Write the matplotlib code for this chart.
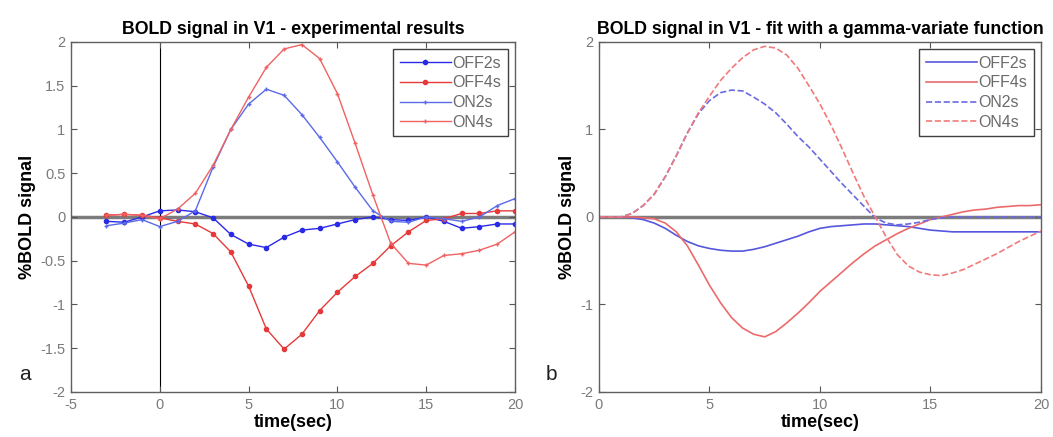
import matplotlib
matplotlib.use('Agg')
import matplotlib.pyplot as plt
import numpy as np

plt.rcParams['font.family'] = ['Liberation Sans', 'DejaVu Sans']
plt.rcParams['axes.unicode_minus'] = False

# experimental results (panel a), one value per second
t_exp = np.arange(-3, 21)
off2s = [-0.05, -0.06, 0.0, 0.07, 0.08, 0.06, -0.01, -0.20, -0.31, -0.35, -0.23, -0.15,
         -0.13, -0.08, -0.03, 0.0, -0.03, -0.04, 0.0, -0.05, -0.13, -0.11, -0.08, -0.08]
off4s = [0.02, 0.03, 0.02, -0.01, -0.05, -0.08, -0.19, -0.40, -0.79, -1.28, -1.51, -1.34,
         -1.07, -0.86, -0.68, -0.53, -0.33, -0.17, -0.04, -0.02, 0.04, 0.04, 0.07, 0.07]
on2s = [-0.10, -0.07, -0.03, -0.11, -0.05, 0.07, 0.57, 1.00, 1.29, 1.46, 1.39, 1.17,
        0.91, 0.63, 0.34, 0.07, -0.05, -0.06, 0.0, -0.02, -0.05, 0.0, 0.13, 0.21]
on4s = [0.02, 0.03, 0.02, -0.02, 0.09, 0.27, 0.59, 1.00, 1.37, 1.71, 1.92, 1.97,
        1.81, 1.41, 0.84, 0.25, -0.30, -0.53, -0.55, -0.44, -0.42, -0.38, -0.31, -0.17]

# gamma-variate fits (panel b), read every half second
t_fit = np.arange(0, 20.5, 0.5)
fit_off2s = [0, 0, 0, -0.01, -0.03, -0.07, -0.13, -0.21, -0.28, -0.33, -0.36, -0.38, -0.39,
             -0.39, -0.37, -0.34, -0.30, -0.26, -0.22, -0.17, -0.13, -0.11, -0.10, -0.09,
             -0.08, -0.08, -0.09, -0.10, -0.11, -0.13, -0.15, -0.16, -0.17, -0.17, -0.17,
             -0.17, -0.17, -0.17, -0.17, -0.17, -0.17]
fit_off4s = [0, 0, 0, 0, -0.01, -0.02, -0.07, -0.17, -0.33, -0.55, -0.78, -0.98, -1.15,
             -1.27, -1.34, -1.37, -1.31, -1.21, -1.10, -0.98, -0.85, -0.74, -0.63, -0.52,
             -0.42, -0.33, -0.26, -0.19, -0.13, -0.08, -0.03, 0.0, 0.03, 0.06, 0.08, 0.09,
             0.11, 0.12, 0.13, 0.13, 0.14]
fit_on2s = [0, 0, 0, 0.04, 0.13, 0.26, 0.46, 0.70, 0.96, 1.18, 1.33, 1.42, 1.45, 1.44,
            1.37, 1.29, 1.19, 1.06, 0.92, 0.80, 0.66, 0.52, 0.38, 0.25, 0.12, -0.01, -0.07,
            -0.09, -0.08, -0.06, -0.03, -0.01, 0, 0, 0, 0, 0, 0, 0, 0, 0]
fit_on4s = [0, 0, 0, 0.04, 0.13, 0.26, 0.46, 0.70, 0.96, 1.19, 1.38, 1.56, 1.70, 1.82,
            1.91, 1.95, 1.93, 1.85, 1.70, 1.50, 1.29, 1.05, 0.78, 0.50, 0.23, 0.0, -0.23,
            -0.43, -0.56, -0.63, -0.66, -0.67, -0.64, -0.60, -0.54, -0.48, -0.42, -0.35,
            -0.28, -0.22, -0.16]

labels = ['OFF2s', 'OFF4s', 'ON2s', 'ON4s']

fig = plt.figure(figsize=(10.53, 4.37), dpi=100)
ax1 = fig.add_axes([0.0674, 0.103, 0.4217, 0.801])
ax2 = fig.add_axes([0.5688, 0.103, 0.4198, 0.801])


def style(ax):
    ax.set_ylim(-2, 2)
    ax.tick_params(direction='in', top=True, right=True, length=4, pad=4,
                   labelsize=10.5, labelcolor='#7a7a7a', color='#555555')
    for s in ax.spines.values():
        s.set_color('#606060')
        s.set_linewidth(1.0)
    ax.axhline(0, color='#7c7c7c', lw=2.5, zorder=1)
    ax.set_xlabel('time(sec)', fontsize=13, fontweight='bold', labelpad=2)
    ax.set_ylabel('%BOLD signal', fontsize=13, fontweight='bold', labelpad=3)


def legend(ax):
    leg = ax.legend(loc='upper right', fontsize=11.5, frameon=True, fancybox=False,
                    borderaxespad=0.45, handlelength=3.2, handletextpad=0.1,
                    labelspacing=0.3, borderpad=0.4, framealpha=1)
    leg.get_frame().set_edgecolor('#404040')
    for txt in leg.get_texts():
        txt.set_color('#6a6a6a')


# panel a
style(ax1)
ax1.axvline(0, color='black', lw=0.8, zorder=1)
ax1.plot(t_exp, off2s, '.-', color='#2a2ae6', lw=1, ms=6, label=labels[0])
ax1.plot(t_exp, off4s, '.-', color='#e63a3a', lw=1, ms=6, label=labels[1])
ax1.plot(t_exp, on2s, '+-', color='#5a6ae8', lw=1, ms=3, label=labels[2])
ax1.plot(t_exp, on4s, '+-', color='#f06262', lw=1, ms=3, label=labels[3])
ax1.set_xlim(-5, 20)
ax1.set_xticks([-5, 0, 5, 10, 15, 20])
ax1.set_yticks([-2, -1.5, -1, -0.5, 0, 0.5, 1, 1.5, 2])
ax1.set_yticklabels(['-2', '-1.5', '-1', '-0.5', '0', '0.5', '1', '1.5', '2'])
ax1.set_title('BOLD signal in V1 - experimental results', fontsize=12.8,
              fontweight='bold', pad=6)
legend(ax1)

# panel b
style(ax2)
ax2.plot(t_fit, fit_off2s, '-', color='#5656de', lw=1.2, label=labels[0])
ax2.plot(t_fit, fit_off4s, '-', color='#ec6a6a', lw=1.2, label=labels[1])
ax2.plot(t_fit, fit_on2s, '--', color='#6a6ae0', lw=1.2, label=labels[2])
ax2.plot(t_fit, fit_on4s, '--', color='#f07a7a', lw=1.2, label=labels[3])
ax2.set_xlim(0, 20)
ax2.set_xticks([0, 5, 10, 15, 20])
ax2.set_yticks([-2, -1, 0, 1, 2])
ax2.set_title('BOLD signal in V1 - fit with a gamma-variate function', fontsize=12.8,
              fontweight='bold', pad=6)
legend(ax2)

fig.text(0.018, 0.13, 'a', fontsize=15, color='#222222')
fig.text(0.518, 0.13, 'b', fontsize=15, color='#222222')

fig.savefig('out.png', dpi=100)
